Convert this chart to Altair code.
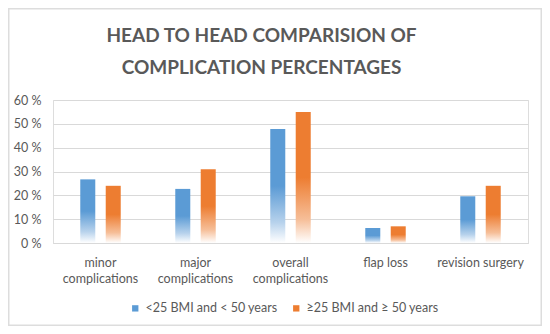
import altair as alt
import pandas as pd

categories = ["minor complications", "major complications", "overall complications", "flap loss", "revision surgery"]
series_names = ["<25 BMI and < 50 years", "\u226525 BMI and \u2265 50 years"]
young_values = [26.7, 22.7, 47.8, 6.3, 19.6]
old_values = [24.0, 30.9, 55.0, 7.0, 24.0]
series_colors = ["#5B9BD5", "#ED7D31"]
y_ticks = [0, 10, 20, 30, 40, 50, 60]

rows = []
for c, v in zip(categories, young_values):
    rows.append({"category": c, "series": series_names[0], "value": v})
for c, v in zip(categories, old_values):
    rows.append({"category": c, "series": series_names[1], "value": v})
df = pd.DataFrame(rows)

TEXT = "#595959"
FONT = "Lato"
W, H = 475, 143


def grad(color, light):
    return alt.Gradient(
        gradient="linear", x1=0, x2=0, y1=0, y2=1,
        stops=[
            alt.GradientStop(color=color, offset=0),
            alt.GradientStop(color=color, offset=0.5),
            alt.GradientStop(color=light, offset=0.82),
            alt.GradientStop(color="#ffffff", offset=1),
        ],
    )


x_enc = alt.X(
    "category:N", sort=categories, title=None,
    scale=alt.Scale(domain=categories, paddingInner=0.574, paddingOuter=0.287),
    axis=alt.Axis(
        labelAngle=0, ticks=False, labelPadding=13, labelFontSize=12.5,
        labelColor=TEXT, labelFont=FONT, labelLineHeight=16,
        domainColor="#D9D9D9", domainWidth=1, labelLimit=200,
        labelExpr="indexof(datum.label, 'complications') > 0 ? split(datum.label, ' ') : datum.label",
    ),
)
xo_enc = alt.XOffset(
    "series:N", sort=series_names,
    scale=alt.Scale(domain=series_names, paddingInner=0.41, paddingOuter=0),
)
y_enc = alt.Y(
    "value:Q", title=None,
    scale=alt.Scale(domain=[0, 60], nice=False),
    axis=alt.Axis(
        values=y_ticks, labelExpr="datum.value + ' %'", ticks=False, domain=False,
        labelPadding=12, labelFontSize=12.5, labelColor=TEXT, labelFont=FONT,
        gridColor="#D9D9D9", gridWidth=1,
    ),
)

base = alt.Chart(df)

bars_young = base.transform_filter(alt.datum.series == series_names[0]).mark_bar(
    fill=grad(series_colors[0], "#B7D2EC")
).encode(x=x_enc, xOffset=xo_enc, y=y_enc)

bars_old = base.transform_filter(alt.datum.series == series_names[1]).mark_bar(
    fill=grad(series_colors[1], "#F6BE98")
).encode(x=x_enc, xOffset=xo_enc, y=y_enc)

legend_layer = base.mark_square(opacity=0).encode(
    x=x_enc, xOffset=xo_enc, y=y_enc,
    color=alt.Color(
        "series:N", sort=series_names,
        scale=alt.Scale(domain=series_names, range=series_colors),
        legend=alt.Legend(
            title=None, orient="none", direction="horizontal",
            legendX=76, legendY=202, symbolType="square", symbolSize=40,
            symbolOpacity=1, symbolStrokeWidth=0, labelFontSize=12.5,
            labelColor=TEXT, labelFont=FONT, columnPadding=12, labelOffset=4,
        ),
    ),
)

border = alt.Chart(pd.DataFrame({"a": [0]})).mark_rect(
    filled=False, stroke="#DDDDDD", strokeWidth=1.5
).encode(
    x=alt.value(-44.25), x2=alt.value(488.25), y=alt.value(-91.25), y2=alt.value(225.25)
)

chart = alt.layer(bars_young, bars_old, legend_layer, border).properties(
    width=W, height=H,
    autosize=alt.AutoSizeParams(type="none"),
    padding={"left": 45, "top": 92, "right": 14, "bottom": 83},
    title=alt.TitleParams(
        text=["HEAD TO HEAD COMPARISION OF", "COMPLICATION PERCENTAGES"],
        fontSize=19, font=FONT, fontWeight="bold", color=TEXT,
        lineHeight=32, offset=18, dx=-29, dy=88, anchor="middle",
    ),
).configure_view(stroke=None).configure(background="white")

chart.save("out.html", embed_options={"renderer": "svg", "actions": False})
